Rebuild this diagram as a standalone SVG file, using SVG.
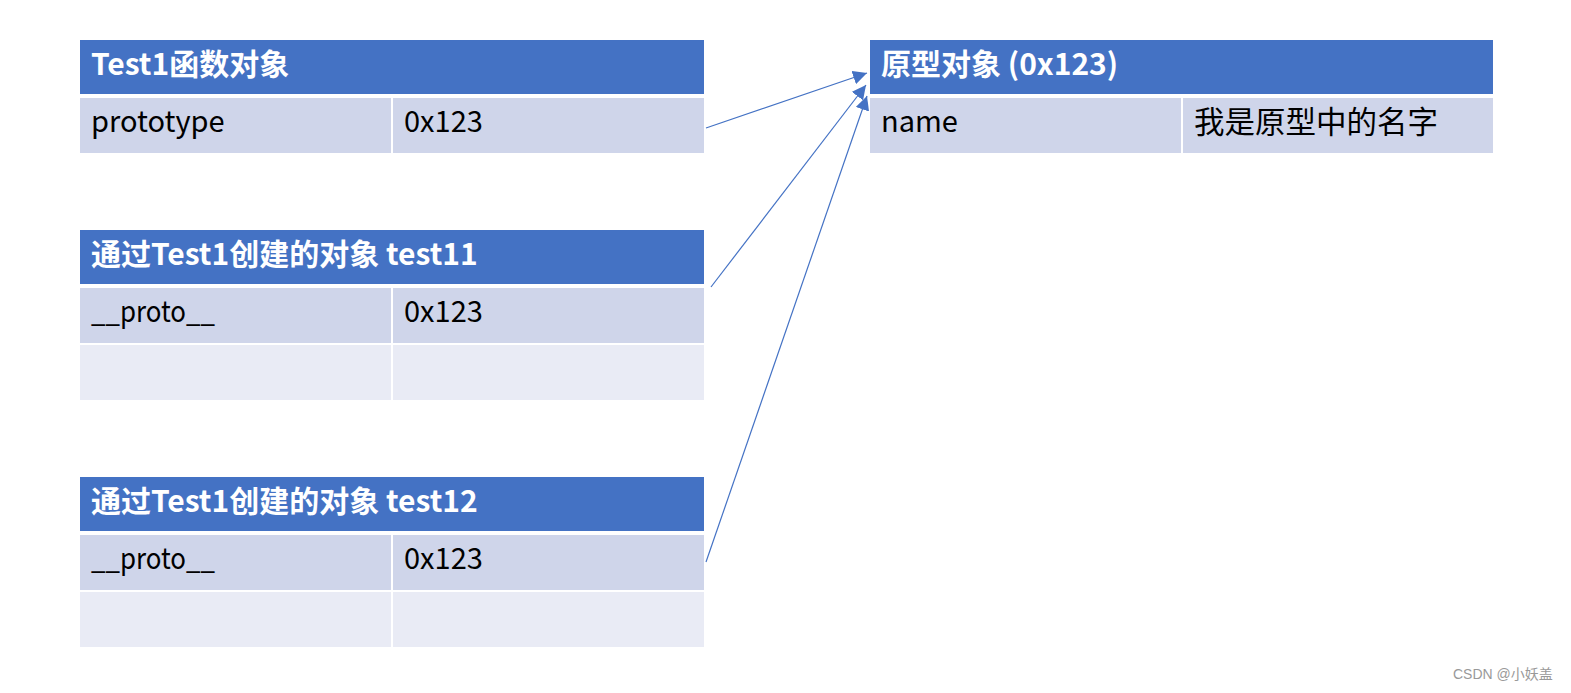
<svg xmlns="http://www.w3.org/2000/svg" width="1571" height="693" viewBox="0 0 1571 693">
<style>
.hd{fill:#4472C4}
.r1{fill:#CFD5EA}
.r2{fill:#E9EBF5}
.ht{font-family:"Noto Sans CJK SC","Noto Sans",sans-serif;font-size:30px;font-weight:bold;fill:#fff}
.ct{font-family:"Noto Sans CJK SC","Noto Sans",sans-serif;font-size:29px;fill:#000}
.cj{font-size:30.5px}
.cn{stroke:#4472C4;stroke-width:1.2;fill:none}
.wm{font-family:"Liberation Sans","Noto Sans CJK SC",sans-serif;font-size:14px;fill:#999}
</style>
<defs>
<marker id="ah" viewBox="0 0 10 10" refX="10" refY="5" markerWidth="14" markerHeight="14" markerUnits="userSpaceOnUse" orient="auto">
<path d="M0,0 L10,5 L0,10 z" fill="#4472C4"/>
</marker>
</defs>
<rect width="1571" height="693" fill="#fff"/>
<g id="test1">
<rect class="hd" x="80" y="40" width="624" height="54"/>
<rect class="r1" x="80" y="98" width="311" height="55"/>
<rect class="r1" x="393" y="98" width="311" height="55"/>
<text class="ht" x="91" y="75">Test1函数对象</text>
<text class="ct" x="91" y="132">prototype</text>
<text class="ct" x="404" y="132">0x123</text>
</g>
<g id="test11">
<rect class="hd" x="80" y="230" width="624" height="54"/>
<rect class="r1" x="80" y="288" width="311" height="55"/>
<rect class="r1" x="393" y="288" width="311" height="55"/>
<rect class="r2" x="80" y="345" width="311" height="55"/>
<rect class="r2" x="393" y="345" width="311" height="55"/>
<text class="ht" x="91" y="265">通过Test1创建的对象 test11</text>
<text class="ct" x="91" y="322" textLength="124" lengthAdjust="spacingAndGlyphs">__proto__</text>
<text class="ct" x="404" y="322">0x123</text>
</g>
<g id="test12">
<rect class="hd" x="80" y="477" width="624" height="54"/>
<rect class="r1" x="80" y="535" width="311" height="55"/>
<rect class="r1" x="393" y="535" width="311" height="55"/>
<rect class="r2" x="80" y="592" width="311" height="55"/>
<rect class="r2" x="393" y="592" width="311" height="55"/>
<text class="ht" x="91" y="512">通过Test1创建的对象 test12</text>
<text class="ct" x="91" y="569" textLength="124" lengthAdjust="spacingAndGlyphs">__proto__</text>
<text class="ct" x="404" y="569">0x123</text>
</g>
<g id="proto">
<rect class="hd" x="870" y="40" width="623" height="54"/>
<rect class="r1" x="870" y="98" width="311" height="55"/>
<rect class="r1" x="1183" y="98" width="310" height="55"/>
<text class="ht" x="881" y="75">原型对象 (0x123)</text>
<text class="ct" x="881" y="132">name</text>
<text class="ct cj" x="1194" y="133">我是原型中的名字</text>
</g>
<g id="connectors">
<line class="cn" x1="706" y1="128" x2="867" y2="73" marker-end="url(#ah)"/>
<line class="cn" x1="711" y1="287" x2="866" y2="85" marker-end="url(#ah)"/>
<line class="cn" x1="706" y1="562" x2="867" y2="96" marker-end="url(#ah)"/>
</g>
<text class="wm" x="1453" y="679">CSDN @小妖盖</text>
</svg>
